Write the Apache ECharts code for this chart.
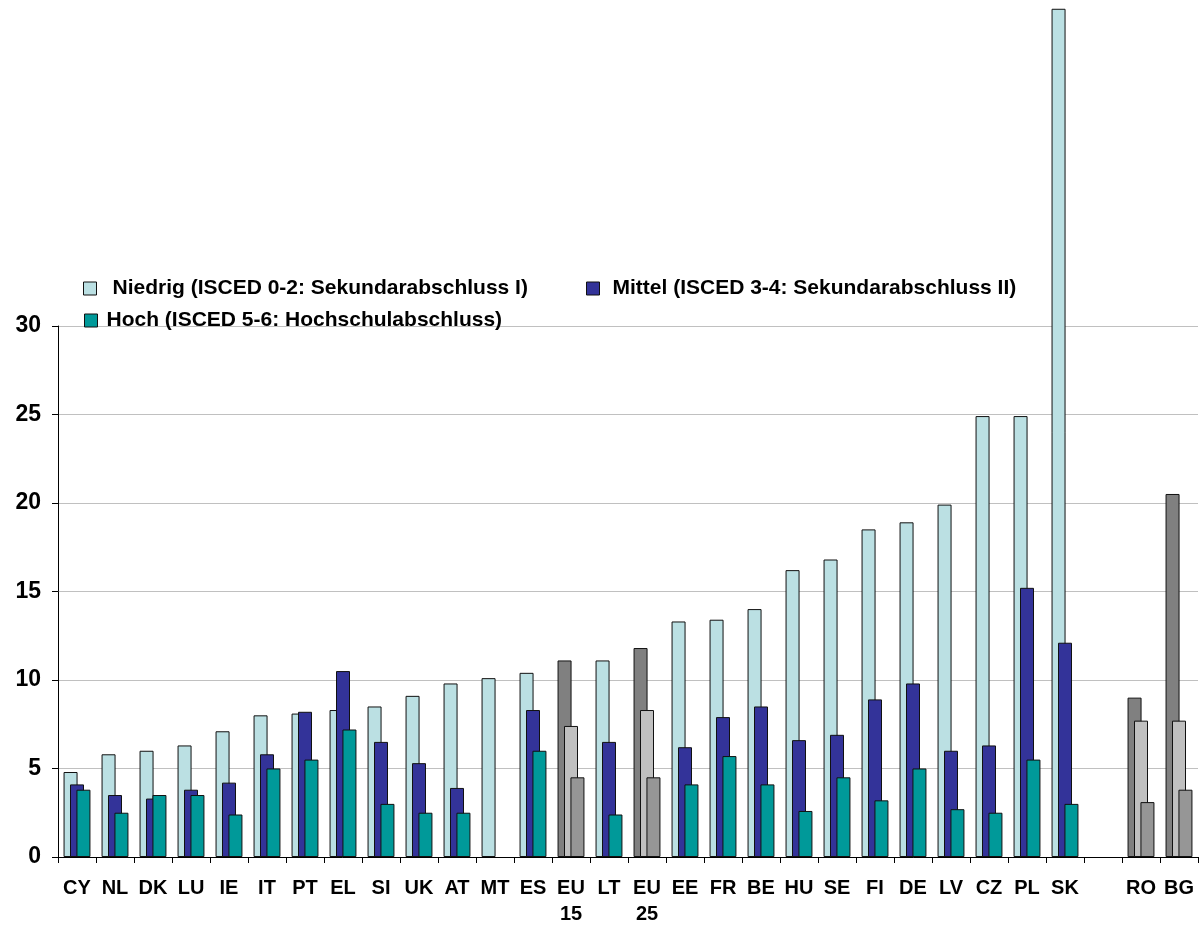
<!DOCTYPE html>
<html>
<head>
<meta charset="utf-8">
<script src="https://cdn.jsdelivr.net/npm/echarts@6/dist/echarts.min.js"></script>
<style>
  html, body { margin: 0; padding: 0; background: #fff; }
  #chart { width: 1204px; height: 929px; }
</style>
</head>
<body>
<div id="chart"></div>
<script>
// Countries and aggregates (EU15, EU25, RO, BG drawn in grey)
const categories = ['CY','NL','DK','LU','IE','IT','PT','EL','SI','UK','AT','MT','ES','EU\n15','LT','EU\n25',
  'EE','FR','BE','HU','SE','FI','DE','LV','CZ','PL','SK','','RO','BG'];
const greyCategories = ['EU\n15','EU\n25','RO','BG'];

const lowValues  = [4.8,5.8,6.0,6.3,7.1,8.0,8.1,8.3,8.5,9.1,9.8,10.1,10.4,11.1,11.1,11.8,
  13.3,13.4,14.0,16.2,16.8,18.5,18.9,19.9,24.9,24.9,47.9,null,9.0,20.5];
const midValues  = [4.1,3.5,3.3,3.8,4.2,5.8,8.2,10.5,6.5,5.3,3.9,null,8.3,7.4,6.5,8.3,
  6.2,7.9,8.5,6.6,6.9,8.9,9.8,6.0,6.3,15.2,12.1,null,7.7,7.7];
const highValues = [3.8,2.5,3.5,3.5,2.4,5.0,5.5,7.2,3.0,2.5,2.5,null,6.0,4.5,2.4,4.5,
  4.1,5.7,4.1,2.6,4.5,3.2,5.0,2.7,2.5,5.5,3.0,null,3.1,3.8];

const yTicks = [0, 5, 10, 15, 20, 25, 30];

const seriesNames = [
  'Niedrig (ISCED 0-2: Sekundarabschluss I)',
  'Mittel (ISCED 3-4: Sekundarabschluss II)',
  'Hoch (ISCED 5-6: Hochschulabschluss)'
];
const seriesColors = ['#bbe0e3', '#333399', '#009999'];
const greyColors = ['#808080', '#c0c0c0', '#969696'];

const FONT = 'Liberation Sans, Arial, Helvetica, sans-serif';

function buildData(values, greyColor) {
  return values.map((v, i) =>
    greyCategories.includes(categories[i])
      ? { value: v, itemStyle: { color: greyColor } }
      : v
  );
}

const chart = echarts.init(document.getElementById('chart'), null, { renderer: 'canvas' });

const valueSets = [lowValues, midValues, highValues];
const series = valueSets.map((vals, k) => ({
  name: seriesNames[k],
  type: 'bar',
  xAxisIndex: 0,
  yAxisIndex: 0,
  barWidth: 14,
  barGap: '-54%',
  data: buildData(vals, greyColors[k]),
  itemStyle: { color: seriesColors[k], borderColor: '#111', borderWidth: 1 },
  emphasis: { disabled: true },
  animation: false
}));

const legendBase = {
  orient: 'horizontal',
  padding: 0,
  icon: 'rect',
  itemWidth: 13,
  itemHeight: 13,
  selectedMode: false,
  itemStyle: { borderColor: '#111', borderWidth: 1 }
};
const legendText = (pad) => ({
  fontFamily: FONT, fontWeight: 'bold', fontSize: 21, color: '#000', padding: [0, 0, 0, pad]
});

chart.setOption({
  backgroundColor: '#fff',
  animation: false,
  legend: [
    Object.assign({}, legendBase, { data: [seriesNames[0]], left: 83, top: 278, textStyle: legendText(11) }),
    Object.assign({}, legendBase, { data: [seriesNames[1]], left: 586, top: 278, textStyle: legendText(8) }),
    Object.assign({}, legendBase, { data: [seriesNames[2]], left: 84, top: 310, textStyle: legendText(4) })
  ],
  grid: [
    // bars: full height so the tallest bar can rise above the labelled range
    { left: 58, right: 6, top: 7, bottom: 72 },
    // labelled value range 0-30 with gridlines
    { left: 58, right: 6, top: 326, bottom: 72 }
  ],
  xAxis: [
    {
      type: 'category',
      gridIndex: 0,
      data: categories,
      boundaryGap: true,
      axisLine: { show: true, lineStyle: { color: '#000', width: 1 } },
      axisTick: { show: true, length: 6, lineStyle: { color: '#000' } },
      axisLabel: {
        interval: 0, margin: 18, color: '#000',
        fontFamily: FONT, fontWeight: 'bold', fontSize: 20, lineHeight: 26
      },
      splitLine: { show: false },
      z: 5
    },
    { type: 'category', gridIndex: 1, data: categories, show: false }
  ],
  yAxis: [
    { type: 'value', gridIndex: 0, min: 0, max: 48, show: false, splitLine: { show: false } },
    {
      type: 'value',
      gridIndex: 1,
      min: yTicks[0],
      max: yTicks[yTicks.length - 1],
      interval: 5,
      axisLine: { show: true, lineStyle: { color: '#000', width: 1 } },
      axisTick: { show: true, length: 6, lineStyle: { color: '#000' } },
      axisLabel: { margin: 17, color: '#000', fontFamily: FONT, fontWeight: 'bold', fontSize: 23 },
      splitLine: { show: true, lineStyle: { color: '#c0c0c0', width: 1 } }
    }
  ],
  series: series
});
</script>
</body>
</html>
